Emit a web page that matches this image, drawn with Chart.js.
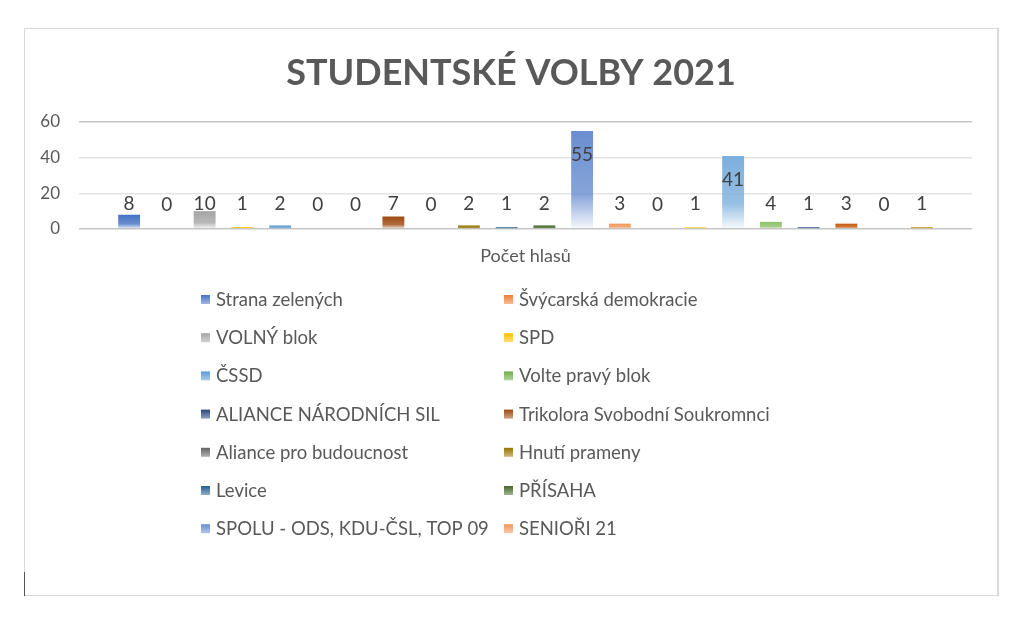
<!DOCTYPE html>
<html lang="cs">
  <head>
    <meta charset="UTF-8" />
    <title>Studentské volby 2021</title>
    <script src="https://cdn.jsdelivr.net/npm/chart.js"></script>
    <style>
      body { margin: 0; background: #fff; }
      #frame {
        position: absolute; left: 24px; top: 28px; width: 972px; height: 566px;
        border: 1px solid #d9d9d9; border-right: 2px solid #d9d9d9;
      }
      #cursor { position: absolute; left: 24px; top: 572px; width: 1px; height: 24px; background: #555; }
    </style>
  </head>
  <body>
    <div id="frame"><canvas id="chart" width="972" height="566"></canvas></div>
    <div id="cursor"></div>

    <script>
      const title = "STUDENTSKÉ VOLBY 2021";
      const categories = ["Počet hlasů"];
      const parties = [
        "Strana zelených", "Švýcarská demokracie", "VOLNÝ blok", "SPD", "ČSSD",
        "Volte pravý blok", "ALIANCE NÁRODNÍCH SIL", "Trikolora Svobodní Soukromnci",
        "Aliance pro budoucnost", "Hnutí prameny", "Levice", "PŘÍSAHA",
        "SPOLU - ODS, KDU-ČSL, TOP 09", "SENIOŘI 21",
        // not visible in the (cut off) legend
        "Urza.cz", "Moravské zemské hnutí", "PIRÁTI a STAROSTOVÉ", "KSČM",
        "Koruna Česká", "ANO 2011", "Otevřeme ČR normálnímu životu", "Moravané",
      ];
      const votes = [8, 0, 10, 1, 2, 0, 0, 7, 0, 2, 1, 2, 55, 3, 0, 1, 41, 4, 1, 3, 0, 1];
      const colors = [
        "#4472C4", "#ED7D31", "#A5A5A5", "#FFC000", "#5B9BD5", "#70AD47",
        "#264478", "#9E480E", "#636363", "#997300", "#255E91", "#43682B",
        "#698ED0", "#F1975A", "#B7B7B7", "#FFCD33", "#7CAFDD", "#8CC168",
        "#2F5597", "#C55A11", "#7B7B7B", "#BF9000",
      ];
      const legendShown = 14; // legend is truncated in the original
      const yMax = 60;
      const yStep = 20;

      const FONT = "Lato, 'Open Sans', sans-serif";
      const TEXT = "#595959";

      function rgba(hex, a) {
        const n = parseInt(hex.slice(1), 16);
        return `rgba(${(n >> 16) & 255}, ${(n >> 8) & 255}, ${n & 255}, ${a})`;
      }

      // excel-like gradient: solid at top, fading to white at base
      function barFill(color) {
        return (ctx) => {
          const chart = ctx.chart;
          if (!chart.chartArea) return color;
          const y = chart.scales.y;
          const top = y.getPixelForValue(ctx.raw || 0);
          const base = y.getPixelForValue(0);
          if (base - top < 1) return color;
          const g = chart.ctx.createLinearGradient(0, top, 0, base);
          g.addColorStop(0, color);
          g.addColorStop(0.65, rgba(color, 0.8));
          g.addColorStop(1, rgba(color, 0.05));
          return g;
        };
      }

      const datasets = parties.map((name, i) => ({
        label: name,
        data: [votes[i]],
        backgroundColor: barFill(colors[i]),
        borderWidth: 0,
        categoryPercentage: 0.93,
        barPercentage: 0.58,
      }));

      // title, value labels and the two-column legend
      const decor = {
        id: "decor",
        afterDatasetsDraw(chart) {
          const c = chart.ctx;
          c.save();
          c.fillStyle = "#404040";
          c.font = `19px ${FONT}`;
          c.textAlign = "center";
          c.textBaseline = "middle";
          chart.data.datasets.forEach((ds, i) => {
            const el = chart.getDatasetMeta(i).data[0];
            const ly = Math.min(el.y + 24, el.base - 24);
            c.fillText(String(ds.data[0]), el.x, ly);
          });
          c.restore();
        },
        afterDraw(chart) {
          const c = chart.ctx;
          c.save();
          c.fillStyle = TEXT;
          c.font = `bold 36px ${FONT}`;
          c.textAlign = "center";
          c.textBaseline = "middle";
          c.fillText(title, chart.width / 2, 44);

          c.font = `18.5px ${FONT}`;
          c.textAlign = "left";
          for (let i = 0; i < legendShown; i++) {
            const col = i % 2, row = Math.floor(i / 2);
            const x = col === 0 ? 176 : 479;
            const y = 271 + row * 38.2;
            const g = c.createLinearGradient(0, y - 5, 0, y + 5);
            g.addColorStop(0, colors[i]);
            g.addColorStop(1, rgba(colors[i], 0.45));
            c.fillStyle = g;
            c.fillRect(x, y - 5, 9, 9);
            c.fillStyle = TEXT;
            c.fillText(parties[i], x + 15, y);
          }
          c.restore();
        },
      };

      new Chart(document.getElementById("chart"), {
        type: "bar",
        data: { labels: categories, datasets },
        plugins: [decor],
        options: {
          responsive: false,
          animation: false,
          layout: { padding: { left: 0, right: 25, top: 93, bottom: 321 } },
          plugins: { legend: { display: false }, tooltip: { enabled: false }, title: { display: false } },
          scales: {
            x: {
              grid: { display: false, drawTicks: false },
              border: { display: false },
              ticks: { color: TEXT, font: { family: FONT, size: 18 }, padding: 16 },
              afterFit(s) { s.height = 45; },
            },
            y: {
              min: 0,
              max: yMax,
              ticks: { stepSize: yStep, color: TEXT, font: { family: FONT, size: 17 }, padding: 19 },
              grid: {
                drawTicks: false,
                color: (ctx) => (ctx.tick.value === 0 || ctx.tick.value === yMax ? "#c6c6c6" : "#e4e4e4"),
                lineWidth: 1.5,
              },
              border: { display: false },
              afterFit(s) { s.width = 54; },
            },
          },
        },
      });
    </script>
  </body>
</html>
